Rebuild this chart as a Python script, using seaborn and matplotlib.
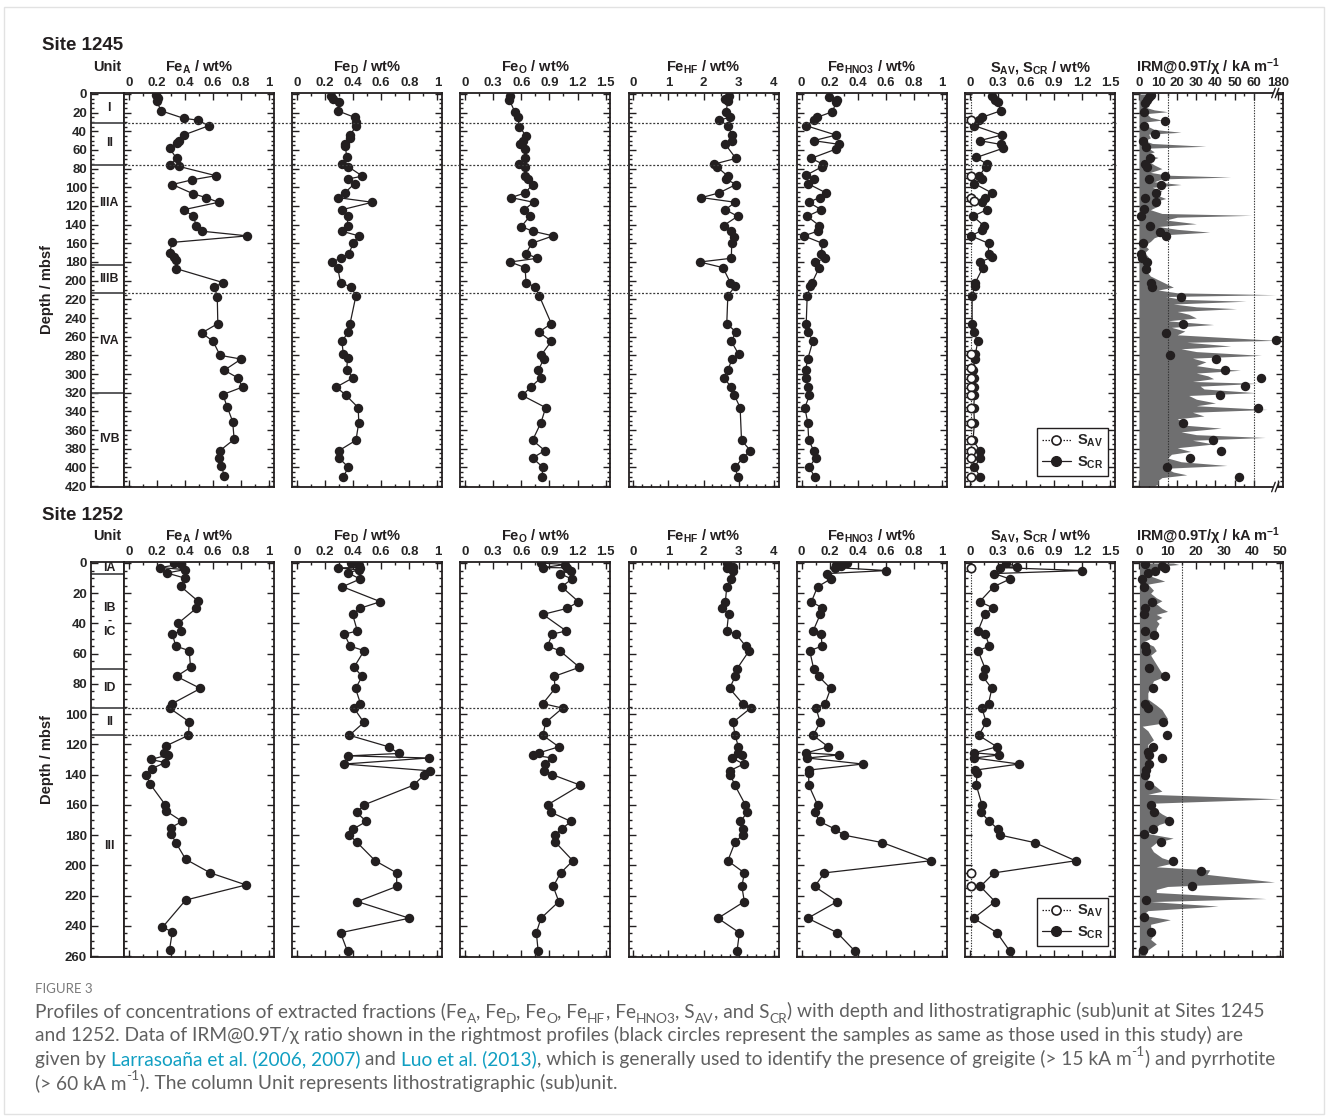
import numpy as np
import pandas as pd
import matplotlib
matplotlib.use("Agg")
import matplotlib.pyplot as plt
import matplotlib.transforms as mtransforms
from matplotlib.lines import Line2D
from matplotlib.patches import Rectangle
from matplotlib.font_manager import FontProperties
import seaborn as sns

sns.set_theme(style="white")
plt.rcParams["font.family"] = ["Liberation Sans", "DejaVu Sans"]
plt.rcParams["font.weight"] = "bold"
plt.rcParams["mathtext.fontset"] = "custom"
plt.rcParams["mathtext.rm"] = "Liberation Sans:bold"
plt.rcParams["mathtext.bf"] = "Liberation Sans:bold"
plt.rcParams["mathtext.it"] = "Liberation Sans:bold"

INK = "#231f20"
FILL = "#6f6f70"

# ---------------- data: Site 1245 (depth mbsf, value) ----------------
FEA_1245 = [(1,0.195),(4,0.21),(8,0.2),(18,0.23),(26,0.39),(28,0.49),(34,0.57),(44,0.39),(50,0.36),(53,0.34),
            (58,0.29),(69,0.34),(76,0.29),(77.5,0.355),(87.5,0.62),(92,0.45),(97,0.31),(107,0.46),(111,0.55),(116,0.64),
            (124,0.39),(131,0.46),(141,0.48),(147,0.52),(152,0.845),(159,0.31),(170,0.29),(175,0.32),(178,0.335),(187,0.335),
            (202,0.67),(207,0.61),(217,0.63),(246,0.634),(256,0.52),(265,0.60),(280,0.65),(284,0.80),(296,0.68),(304,0.775),
            (314,0.81),(322,0.67),(335,0.70),(351,0.74),(370,0.75),(382,0.65),(390,0.64),(399,0.66),(409,0.68)]
FED_1245 = [(2,0.24),(5,0.26),(9,0.30),(18,0.29),(25,0.41),(30,0.42),(34,0.42),(44,0.38),(47,0.38),(54,0.34),(56,0.345),
            (68,0.354),(75,0.32),(78,0.366),(88,0.466),(91,0.366),(96,0.41),(106,0.34),(111,0.29),(116,0.536),(124,0.32),
            (131,0.36),(141,0.36),(147,0.32),(152,0.44),(160,0.40),(171,0.37),(176,0.31),(180,0.25),(186,0.29),(202,0.31),
            (207,0.385),(216,0.42),(246,0.378),(255,0.366),(265,0.32),(279,0.33),(283,0.36),(296,0.354),(304,0.40),(314,0.28),
            (323,0.35),(336,0.436),(352,0.44),(371,0.42),(382,0.30),(390,0.30),(400,0.366),(410,0.33)]
FEO_1245 = [(2,0.48),(6,0.47),(19,0.53),(25,0.56),(35,0.58),(45,0.65),(50,0.62),(54,0.59),(59,0.64),(69,0.64),(75,0.57),
            (78,0.64),(88,0.64),(91,0.67),(97,0.72),(106,0.64),(111,0.49),(116,0.73),(124,0.63),(131,0.69),(142,0.60),
            (147,0.72),(152,0.94),(160,0.71),(171,0.65),(176,0.77),(180,0.48),(186,0.64),(202,0.65),(207,0.75),(216,0.79),
            (246,0.92),(255,0.79),(265,0.92),(280,0.81),(284,0.84),(296,0.78),(304,0.81),(314,0.70),(323,0.61),(336,0.86),
            (352,0.81),(371,0.72),(382,0.85),(390,0.72),(400,0.83),(410,0.82)]
FEHF_1245 = [(2,2.71),(5,2.62),(8,2.69),(19,2.64),(25,2.74),(28,2.45),(34,2.69),(44,2.81),(50,2.81),(54,2.62),(69,2.92),
             (75,2.31),(78,2.38),(88,2.69),(91,2.64),(97,2.92),(106,2.44),(111,1.94),(116,2.90),(124,2.62),(131,2.97),
             (141,2.57),(147,2.78),(153,2.88),(160,2.80),(176,2.79),(180,1.89),(186,2.55),(202,2.76),(206,2.90),(216,2.69),
             (246,2.66),(255,2.92),(265,2.79),(279,3.0),(284,2.81),(296,2.69),(304,2.57),(314,2.79),(323,2.88),(336,3.04),
             (371,3.08),(382,3.33),(390,3.11),(400,2.90),(410,2.97)]
FEHNO3_1245 = [(3,0.196),(6,0.25),(9,0.245),(19,0.22),(25,0.11),(28,0.086),(34,0.033),(44,0.245),(50,0.086),(54,0.27),
               (59,0.245),(69,0.068),(75,0.15),(78,0.145),(87,0.033),(91,0.09),(96,0.044),(106,0.175),(111,0.128),(116,0.051),
               (124,0.14),(131,0.04),(141,0.126),(147,0.114),(152,0.016),(160,0.149),(171,0.14),(176,0.168),(180,0.098),
               (186,0.126),(202,0.075),(206,0.063),(216,0.04),(246,0.033),(255,0.047),(265,0.08),(284,0.044),(296,0.028),
               (304,0.028),(314,0.047),(323,0.056),(336,0.023),(352,0.044),(371,0.051),(382,0.086),(390,0.10),(400,0.054),
               (410,0.093)]
SCR_1245 = [(2,0.236),(6,0.27),(9,0.30),(18,0.33),(25,0.13),(28,0.095),(34,0.05),(44,0.34),(50,0.106),(54,0.33),(58,0.36),
            (68,0.07),(75,0.18),(78,0.17),(88,0.10),(91,0.13),(96,0.05),(106,0.236),(111,0.16),(116,0.13),(124,0.18),
            (131,0.035),(141,0.148),(146,0.13),(152,0.014),(160,0.20),(171,0.20),(175,0.236),(180,0.106),(186,0.14),
            (202,0.06),(206,0.053),(216,0.025),(246,0.025),(255,0.042),(265,0.085),(279,0.06),(284,0.055),(296,0.035),
            (304,0.042),(314,0.05),(323,0.05),(336,0.042),(352,0.05),(371,0.035),(382,0.106),(390,0.11),(400,0.05),(410,0.11)]
SAV_1245 = [(28,0.014),(88,0.014),(111,0.014),(115,0.05),(279,0.014),(294,0.014),(304,0.014),(314,0.014),(323,0.014),
            (336,0.014),(352,0.014),(371,0.014),(382,0.014),(390,0.014),(410,0.014)]
IRM_PTS_1245 = [(1,6.1),(3,5.2),(6,4.0),(9.5,3.0),(19,2.6),(28.6,13.6),(34,2.6),(43,8.2),(50,2.3),(57,3.5),(69,5.8),
                (75,3.0),(78,4.4),(88,13.6),(91.4,5.2),(97,11.3),(106,8.7),(111,3.0),(116,8.7),(123.6,2.6),(131,0.9),
                (141,5.8),(147.5,11.0),(152,14.0),(160,2.1),(171,0.9),(176,1.4),(180,4.0),(187,3.5),(202,6.5),(207,7.0),
                (217,21.8),(246,23.0),(256,14.0),(264,175),(280,16.2),(284,40.5),(296,45.0),(304,63.7),(313,55.3),
                (322.5,42.2),(336,62.3),(352,23.0),(371,38.9),(382.5,42.8),(390,26.5),(400,14.5),(410,52.4)]
IRM_PROFILE_1245 = [(0,4),(3,6),(6,3),(10,5),(14,3),(17,8),(19,15),(21,4),(25,6),(28,12),(30,3),(34,4),(38,8),(41,22),
                    (43,5),(47,6),(50,3),(53,7),(56,35),(58,5),(62,8),(65,4),(68,10),(72,5),(76,8),(80,12),(84,6),(87,15),
                    (89,48),(91,12),(94,8),(97,22),(100,7),(104,12),(108,9),(112,14),(116,7),(120,10),(124,6),(128,12),
                    (130,59),(132,20),(135,14),(139,30),(142,10),(145,20),(148,37),(151,12),(154,8),(158,6),(162,3),
                    (166,5),(170,3),(175,5),(180,3),(185,5),(190,4),(195,6),(199,10),(203,14),(207,18),(210,10),(213,20),
                    (215,175),(217,14),(220,22),(222,56),(225,18),(228,30),(230,51),(233,20),(236,26),(240,30),(243,15),
                    (247,39),(250,17),(254,24),(258,20),(262,55),(264,175),(266,25),(270,48),(273,22),(276,30),(280,64),
                    (283,28),(287,35),(291,30),(294,40),(296,53),(299,30),(302,36),(305,39),(308,28),(310,62),(313,32),
                    (316,34),(320,61),(323,26),(327,30),(331,40),(334,30),(338,67),(341,28),(345,34),(348,20),(351,23),
                    (355,25),(358,43),(362,22),(365,30),(368,66),(371,28),(375,39),(379,20),(383,27),(386,17),(390,15),
                    (394,22),(398,46),(401,14),(405,18),(408,25),(411,12),(414,10),(418,10),(420,8)]
UNITS_1245 = ["I", "II", "IIIA", "IIIB", "IVA", "IVB"]
UNIT_MID_1245 = [15, 53, 117, 198, 265, 370]
UNIT_BOUNDS_1245 = [31, 76, 183, 213, 320]
DOTTED_1245 = [31, 76, 213]

# ---------------- data: Site 1252 ----------------
FEA_1252 = [(0,0.32),(0.7,0.37),(3,0.225),(4.4,0.40),(6.6,0.27),(10,0.40),(15.5,0.37),(25,0.49),(30,0.48),(40,0.35),
            (45,0.375),(47,0.31),(55,0.335),(58,0.43),(69,0.44),(75,0.34),(83,0.51),(93,0.31),(96,0.29),(105,0.43),
            (114,0.425),(121,0.265),(126,0.25),(127,0.28),(130,0.155),(132,0.26),(136,0.165),(140,0.125),(146,0.15),
            (160,0.26),(164,0.265),(171,0.38),(175,0.30),(179,0.30),(185,0.335),(196,0.405),(205,0.58),(213,0.835),
            (223,0.405),(241,0.24),(244,0.31),(256,0.29)]
FED_1252 = [(0,0.385),(1.3,0.44),(3,0.447),(3.2,0.29),(4.6,0.443),(6.4,0.36),(10.6,0.45),(15.7,0.324),(25.6,0.594),
            (30,0.447),(34,0.396),(45,0.43),(47,0.338),(55,0.378),(58,0.478),(69,0.406),(75,0.464),(83,0.417),(93,0.452),
            (96,0.406),(105.5,0.476),(114,0.373),(121.6,0.653),(126,0.727),(127.6,0.366),(129,0.937),(133,0.336),
            (137.5,0.95),(140,0.907),(147,0.83),(160,0.478),(165,0.424),(171,0.494),(176,0.40),(180,0.373),(184.5,0.424),
            (197,0.557),(205,0.71),(214,0.71),(224,0.43),(235,0.80),(244.6,0.31),(257,0.36)]
FEO_1252 = [(0,0.81),(1,1.07),(3,0.83),(3.2,1.09),(5,1.13),(7,1.01),(10.6,1.14),(15.7,1.03),(25.6,1.21),(30,1.09),
            (34,0.83),(45,1.08),(47,0.93),(55,0.88),(58,1.01),(69,1.22),(75,0.95),(83,0.96),(93,0.83),(96,1.04),
            (105.5,0.86),(114,0.83),(121.6,1.0),(125.6,0.79),(127,0.72),(129,0.93),(133,0.85),(137.5,0.84),(140,0.93),
            (147,1.23),(160,0.88),(165,0.92),(171,1.13),(176,1.03),(180,0.96),(184.5,0.96),(197,1.15),(205,1.02),
            (214,0.94),(224,1.0),(235,0.81),(244.6,0.76),(257,0.78)]
FEHF_1252 = [(0,2.66),(2.4,2.83),(3,2.66),(5,2.83),(10.6,2.78),(15.7,2.66),(25.6,2.62),(29.6,2.53),(34,2.71),(45,2.66),
             (47,2.92),(55,3.2),(58,3.3),(70,2.95),(75,2.90),(83,2.74),(93,3.11),(96,3.34),(105.5,2.83),(114,2.90),
             (121.6,2.99),(125.6,2.97),(127,3.09),(129,2.81),(133,3.14),(137.5,2.74),(140,2.76),(147,2.89),(160,3.19),
             (165,3.25),(171,3.04),(176,3.11),(180,3.11),(184.5,2.90),(197,2.69),(205,3.16),(214,3.09),(224,3.16),
             (235,2.41),(244.6,3.02),(257,2.95)]
FEHNO3_1252 = [(0,0.326),(1.3,0.245),(1.8,0.284),(3,0.238),(5,0.604),(7,0.184),(10.6,0.207),(15.7,0.114),(25.6,0.07),
               (29.6,0.145),(34,0.133),(45,0.082),(47,0.14),(55,0.145),(58,0.058),(70,0.086),(75,0.121),(83,0.207),
               (93,0.168),(96,0.103),(105.5,0.133),(114,0.082),(121.6,0.19),(125.6,0.035),(127,0.266),(129,0.04),
               (133,0.436),(137,0.051),(139,0.051),(147,0.051),(160,0.114),(165,0.098),(171,0.128),(176,0.238),(180,0.30),
               (185,0.576),(197,0.92),(205,0.163),(214,0.093),(224,0.254),(235,0.044),(244.6,0.254),(257,0.382)]
SCR_1252 = [(0,0.387),(2.4,0.50),(3,0.324),(5,1.197),(7,0.26),(10.6,0.43),(15.7,0.254),(25.6,0.106),(29.6,0.246),
            (34,0.158),(45,0.088),(47,0.165),(55,0.21),(58,0.088),(70,0.165),(75,0.137),(83,0.236),(93,0.20),(96,0.13),
            (105.5,0.176),(114,0.095),(121.6,0.29),(125.6,0.05),(127,0.317),(129,0.05),(133,0.528),(137,0.06),(139,0.077),
            (147,0.07),(160,0.13),(165,0.12),(171,0.21),(176,0.30),(180,0.324),(185,0.694),(197,1.13),(205,0.26),
            (214,0.113),(224,0.27),(235,0.042),(244.6,0.29),(257,0.43)]
SAV_1252 = [(3,0.014),(205,0.014),(214,0.014)]
IRM_PTS_1252 = [(0.7,2.0),(2.2,8.1),(3.3,9.1),(5,5.7),(6.6,2.9),(10.4,0.8),(16,1.5),(25.8,4.5),(29.8,2.0),(34,1.8),
                (45,2.0),(47.4,5.1),(55,2.0),(58,2.4),(69.5,3.5),(75,9.1),(83,4.7),(93,2.0),(96,3.0),(105,8.3),(114,9.9),
                (121.5,4.8),(125,3.0),(127,3.5),(129,8.1),(133,3.5),(137,2.3),(140,2.0),(147,3.3),(160,4.2),(165,5.1),
                (171,10.5),(176,4.7),(179,1.7),(184.6,7.7),(197,12.0),(204,22.0),(214,18.7),(223,2.4),(234,1.5),
                (244,4.1),(256,1.2)]
IRM_PROFILE_1252 = [(0,12),(1,14),(2,8),(4,5),(6,3),(8,3),(10,6),(12,9),(14,3),(16,4),(18,5),(20,4),(23,6),(25,8),
                    (27,6),(30,8),(32,10),(34,6),(36,8),(38,6),(40,7),(43,6),(46,6),(49,5),(52,1.5),(55,5),(58,6),(61,4),
                    (64,5),(67,6),(70,7),(73,8),(75,9),(78,5),(82,4),(86,3),(90,3),(94,6),(97,8),(100,9),(103,10),(106,8),
                    (108,1),(111,3),(114,4),(117,5),(120,3),(124,3),(128,4),(132,3),(136,3),(140,3),(144,3),(148,6),
                    (151,8),(153,3),(156,50),(159,3),(162,5),(166,8),(170,12),(173,7),(176,5),(179,3),(182,12),(185,6),
                    (188,4),(191,5),(195,8),(198,13),(201,6),(203,25),(206,24),(211,48),(214,10),(216,6),(218,6),
                    (222,45),(224,4),(227,28),(230,3),(233,1),(236,11),(239,4),(243,4),(246,5),(249,4),(252,6),(256,3),
                    (260,2)]
UNITS_1252 = ["IA", "IB\n-\nIC", "ID", "II", "III"]
UNIT_MID_1252 = [3.3, 38, 83, 105, 187]
UNIT_BOUNDS_1252 = [7, 70, 96, 114]
DOTTED_1252 = [96, 114]

TITLES = ["Fe$_\\mathrm{A}$ / wt%", "Fe$_\\mathrm{D}$ / wt%", "Fe$_\\mathrm{O}$ / wt%", "Fe$_\\mathrm{HF}$ / wt%",
          "Fe$_\\mathrm{HNO3}$ / wt%", "S$_\\mathrm{AV}$, S$_\\mathrm{CR}$ / wt%", "IRM@0.9T/χ / kA m$^\\mathrm{-1}$"]
TICKS_01 = ([0, 0.2, 0.4, 0.6, 0.8, 1.0], ["0", "0.2", "0.4", "0.6", "0.8", "1"], 0.1)
TICKS_15 = ([0, 0.3, 0.6, 0.9, 1.2, 1.5], ["0", "0.3", "0.6", "0.9", "1.2", "1.5"], 0.15)
TICKS_4 = ([0, 1, 2, 3, 4], ["0", "1", "2", "3", "4"], 0.25)

W, H = 1328, 1118
fig = plt.figure(figsize=(W / 100, H / 100), dpi=100)
fig.patch.set_facecolor("white")


def add_ax(l, t, w, h):
    return fig.add_axes([l / W, 1 - (t + h) / H, w / W, h / H])


def irm_fwd(v):
    v = np.asarray(v, dtype=float)
    return np.where(v <= 70, v, np.where(v < 170, 70 + (v - 70) * 0.001, 70.1 + (v - 170) * 0.27))


def irm_inv(u):
    u = np.asarray(u, dtype=float)
    return np.where(u <= 70, u, np.where(u < 70.1, 70 + (u - 70) / 0.001, 170 + (u - 70.1) / 0.27))


def frame(ax):
    for s in ax.spines.values():
        s.set_color(INK)
        s.set_linewidth(1.3)
        s.set_visible(True)


def profile(ax, pairs):
    df = pd.DataFrame(pairs, columns=["depth", "value"])
    sns.lineplot(data=df, x="value", y="depth", sort=False, estimator=None, ax=ax, color=INK,
                 linewidth=0.9, marker="o", markersize=6.8, markeredgecolor=INK, markerfacecolor=INK,
                 markeredgewidth=0, legend=False)


ROWS = [
    dict(site="Site 1245", site_y=46, title_y=67, top=93, h=394, ymax=420, pad=1.07,
         series=[FEA_1245, FED_1245, FEO_1245, FEHF_1245, FEHNO3_1245, SCR_1245],
         sav=SAV_1245, irm_pts=IRM_PTS_1245, irm_prof=IRM_PROFILE_1245,
         units=UNITS_1245, mids=UNIT_MID_1245, bounds=UNIT_BOUNDS_1245, dotted=DOTTED_1245, depth_y=290),
    dict(site="Site 1252", site_y=516, title_y=536, top=562, h=395, ymax=260, pad=0.66,
         series=[FEA_1252, FED_1252, FEO_1252, FEHF_1252, FEHNO3_1252, SCR_1252],
         sav=SAV_1252, irm_pts=IRM_PTS_1252, irm_prof=IRM_PROFILE_1252,
         units=UNITS_1252, mids=UNIT_MID_1252, bounds=UNIT_BOUNDS_1252, dotted=DOTTED_1252, depth_y=760),
]
TICKSETS = [TICKS_01, TICKS_01, TICKS_15, TICKS_4, TICKS_01, TICKS_15]

for ri, row in enumerate(ROWS):
    top, h, ymax = row["top"], row["h"], row["ymax"]
    ylim = (ymax + row["pad"], -row["pad"])
    # unit column
    axu = add_ax(91, top, 33, h)
    frame(axu)
    axu.set_xlim(0, 1)
    axu.set_ylim(*ylim)
    axu.set_xticks([])
    axu.set_yticks(np.arange(0, ymax + 1, 20))
    axu.set_yticks(np.arange(0, ymax + 1, 5), minor=True)
    axu.tick_params(axis="y", which="both", direction="in", left=True, right=False, labelleft=True,
                    labelsize=9.5, pad=3, color=INK, width=1)
    axu.tick_params(axis="y", which="major", length=5)
    axu.tick_params(axis="y", which="minor", length=2.5)
    for b in row["bounds"]:
        axu.axhline(b, color="#4d4d4f", lw=1.3)
    for lab, m in zip(row["units"], row["mids"]):
        axu.text(0.55, m, lab, ha="center", va="center", fontsize=8.8, color=INK, linespacing=1.0)
    fig.text(107.5 / W, 1 - row["title_y"] / H, "Unit", ha="center", va="center", fontsize=10.5, color=INK)
    fig.text(42 / W, 1 - row["site_y"] / H, row["site"], ha="left", va="center", fontsize=13.5, color=INK)
    fig.text(47 / W, 1 - row["depth_y"] / H, "Depth / mbsf", rotation=90, ha="center", va="center",
             fontsize=10.5, color=INK)

    axes = []
    for i in range(7):
        left = 124 + i * 168.2
        ax = add_ax(left, top, 150, h)
        frame(ax)
        axes.append(ax)
        ax.set_ylim(*ylim)
        ax.set_yticks(np.arange(0, ymax + 1, 20))
        ax.set_yticks(np.arange(0, ymax + 1, 5), minor=True)
        if i < 6:
            majors, labels, mstep = TICKSETS[i]
            xmax = majors[-1]
            profile(ax, row["series"][i])
            m = 0.034 * xmax
            ax.set_xlim(-m, xmax + m)
            ax.set_xticks(majors)
            ax.set_xticklabels(labels)
            ax.set_xticks(np.arange(0, xmax + 1e-9, mstep), minor=True)
        else:
            prof = pd.DataFrame(row["irm_prof"], columns=["depth", "value"])
            pts = pd.DataFrame(row["irm_pts"], columns=["depth", "value"])
            if ri == 0:
                ax.set_xscale("function", functions=(irm_fwd, irm_inv))
            ax.fill_betweenx(prof["depth"], 0, prof["value"], color=FILL, lw=0, zorder=1)
            sns.scatterplot(data=pts, x="value", y="depth", ax=ax, color=INK, s=46, linewidth=0,
                            zorder=3, legend=False)
            if ri == 0:
                ax.set_xlim(-3, 189.6)
                ax.set_xticks([0, 10, 20, 30, 40, 50, 60, 180])
                ax.set_xticklabels(["0", "10", "20", "30", "40", "50", "60", "180"])
                ax.set_xticks(np.arange(5, 60, 10), minor=True)
                ax.axvline(15, ls=(0, (1.2, 1.2)), lw=0.8, color="#333333", zorder=2)
                ax.axvline(60, ls=(0, (1.2, 1.2)), lw=0.8, color="#333333", zorder=2)
                # axis break marks
                bx = 0.935
                for yb in (0.0, 1.0):
                    ax.add_patch(Rectangle((bx - 0.004, yb - 0.008), 0.03, 0.016, transform=ax.transAxes,
                                           facecolor="white", edgecolor="none", clip_on=False, zorder=5))
                    for dx in (0.0, 0.024):
                        ax.add_line(Line2D([bx + dx - 0.012, bx + dx + 0.012], [yb - 0.012, yb + 0.012],
                                           transform=ax.transAxes, color=INK, lw=1.0, clip_on=False, zorder=6))
            else:
                ax.set_xlim(-2.2, 51.1)
                ax.set_xticks([0, 10, 20, 30, 40, 50])
                ax.set_xticklabels(["0", "10", "20", "30", "40", "50"])
                ax.set_xticks(np.arange(5, 50, 10), minor=True)
                ax.axvline(15, ls=(0, (1.2, 1.2)), lw=0.8, color="#333333", zorder=2)
        ax.set_xlabel("")
        ax.set_ylabel("")
        ax.tick_params(axis="both", which="both", direction="in", top=True, bottom=True, left=True,
                       right=True, labelbottom=False, labeltop=True, labelleft=False, color=INK, width=1)
        ax.tick_params(axis="x", labelsize=9.5, pad=3)
        ax.tick_params(which="major", length=5)
        ax.tick_params(which="minor", length=2.5)
        fig.text((left + 75) / W, 1 - row["title_y"] / H, TITLES[i], ha="center", va="center",
                 fontsize=10.5, color=INK)

    # S panel extras: S_AV and legend
    axs = axes[5]
    sav = pd.DataFrame(row["sav"], columns=["depth", "value"])
    axs.axvline(0.014, ls=(0, (1.2, 1.2)), lw=0.8, color="#333333", zorder=1)
    sns.scatterplot(data=sav, x="value", y="depth", ax=axs, color="white", edgecolor=INK, linewidth=1.2,
                    s=36, zorder=4, legend=False)
    axs.set_xlabel("")
    axs.set_ylabel("")
    handles = [Line2D([], [], ls=(0, (1.2, 1.2)), color=INK, lw=0.9, marker="o", mfc="white", mec=INK,
                      mew=1.2, ms=6.5),
               Line2D([], [], ls="-", color=INK, lw=0.9, marker="o", mfc=INK, mec=INK, ms=7)]
    leg = axs.legend(handles, ["S$_\\mathrm{AV}$", "S$_\\mathrm{CR}$"], loc="lower right",
                     bbox_to_anchor=(0.955, 0.028), borderaxespad=0, frameon=True, fancybox=False,
                     edgecolor=INK, framealpha=1, prop=FontProperties(family="Liberation Sans", weight="bold",
                                                                      size=10.5),
                     handlelength=2.0, handletextpad=0.4, borderpad=0.35, labelspacing=0.35)
    leg.get_frame().set_linewidth(1.0)
    leg.set_zorder(10)

    # dotted unit boundaries across panels (drawn above axes backgrounds)
    trans = mtransforms.blended_transform_factory(fig.transFigure, axes[0].transData)
    for d in row["dotted"]:
        fig.add_artist(Line2D([124 / W, 1116 / W], [d, d], transform=trans, ls=(0, (1.6, 1.4)), lw=0.9,
                              color="#3a3a3a", zorder=2))

# ---------------- caption ----------------
fig.add_artist(Rectangle((4 / W, 4 / H), (W - 8) / W, (H - 11) / H, transform=fig.transFigure, fill=False,
                         edgecolor="#e2e2e2", lw=1))
renderer = fig.canvas.get_renderer()
CAP_FAM = ["Lato", "DejaVu Sans"]
CAP_W = "normal"
GREY = "#606060"
LINK = "#119fc2"


def measure(txt, size):
    prop = FontProperties(family=CAP_FAM, weight=CAP_W, size=size)
    w1, _, _ = renderer.get_text_width_height_descent("|" + txt + "|", prop, ismath=False)
    w2, _, _ = renderer.get_text_width_height_descent("||", prop, ismath=False)
    return w1 - w2


def seg_size(kind, size):
    return size * 0.72 if kind in ("sub", "sup") else size


def draw_line(y_base, segs, size, x0=35):
    x = x0
    for txt, kind in segs:
        fs = seg_size(kind, size)
        dy = 0
        if kind == "sub":
            dy = -0.3 * size * 100 / 72
        elif kind == "sup":
            dy = 0.45 * size * 100 / 72
        col = LINK if kind == "l" else GREY
        fig.text(x / W, 1 - (y_base - dy) / H, txt, fontsize=fs, color=col, family=CAP_FAM, weight=CAP_W,
                 ha="left", va="baseline")
        x += measure(txt, fs)


CAP1 = [("Profiles of concentrations of extracted fractions (Fe", "n"), ("A", "sub"), (", Fe", "n"), ("D", "sub"),
        (", Fe", "n"), ("O", "sub"), (", Fe", "n"), ("HF", "sub"), (", Fe", "n"), ("HNO3", "sub"), (", S", "n"),
        ("AV", "sub"), (", and S", "n"), ("CR", "sub"),
        (") with depth and lithostratigraphic (sub)unit at Sites 1245", "n")]
CAP2 = [("and 1252. Data of IRM@0.9T/χ ratio shown in the rightmost profiles (black circles represent the samples "
         "as same as those used in this study) are", "n")]
CAP3 = [("given by ", "n"), ("Larrasoaña et al. (2006, 2007)", "l"), (" and ", "n"), ("Luo et al. (2013)", "l"),
        (", which is generally used to identify the presence of greigite (> 15 kA m", "n"), ("-1", "sup"),
        (") and pyrrhotite", "n")]
CAP4 = [("(> 60 kA m", "n"), ("-1", "sup"), ("). The column Unit represents lithostratigraphic (sub)unit.", "n")]

base = 12.0
w_line1 = sum(measure(t, seg_size(k, base)) for t, k in CAP1)
cap_size = base * 1230.0 / w_line1

fig.text(35 / W, 1 - 993 / H, "FIGURE 3", fontsize=9.5, color="#7a7a7a", family=CAP_FAM, weight="normal",
         ha="left", va="baseline")
for yb, segs in zip([1017, 1041, 1065, 1089], [CAP1, CAP2, CAP3, CAP4]):
    draw_line(yb, segs, cap_size)

fig.savefig("out.png", dpi=100, facecolor="white")
